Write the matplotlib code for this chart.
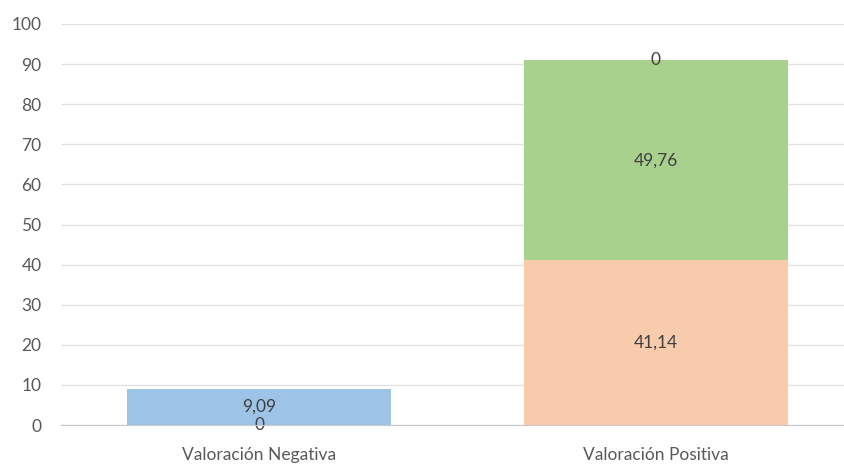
import matplotlib
matplotlib.use("Agg")
import matplotlib.pyplot as plt
import numpy as np

categories = ["Valoración Negativa", "Valoración Positiva"]
orange_vals = [0, 41.14]
green_vals = [np.nan, 49.76]
blue_vals = [9.09, 0]

plt.rcParams["font.family"] = ["Lato", "DejaVu Sans"]

def fmt(v):
  if np.isnan(v):
    return ""
  return ("%g" % v).replace(".", ",")

fig = plt.figure(figsize=(8.44, 4.71), dpi=100)
ax = fig.add_axes([61 / 844, 46 / 471, 793 / 844, 401 / 471])

x = np.arange(len(categories))
w = 0.666
o = np.array(orange_vals)
g = np.nan_to_num(np.array(green_vals))
b = np.array(blue_vals)

bars_o = ax.bar(x, o, w, color="#F8CBAD", zorder=2)
bars_g = ax.bar(x, g, w, bottom=o, color="#A9D18E", zorder=2)
bars_b = ax.bar(x, b, w, bottom=o + g, color="#9DC3E6", zorder=2)

for bars, vals in [(bars_o, orange_vals), (bars_g, green_vals), (bars_b, blue_vals)]:
  for rect, v in zip(bars, vals):
    if np.isnan(v):
      continue
    cy = rect.get_y() + rect.get_height() / 2
    ax.text(rect.get_x() + rect.get_width() / 2, cy, fmt(v), ha="center", va="center",
            fontsize=12.5, color="#404040", zorder=3)

ax.set_xlim(-0.5, 1.5)
ax.set_ylim(0, 100)
ax.set_yticks(np.arange(0, 101, 10))
ax.set_xticks(x)
ax.set_xticklabels(categories)
ax.tick_params(axis="both", length=0, labelsize=12.5, colors="#595959")
ax.tick_params(axis="y", pad=14)
ax.tick_params(axis="x", pad=16)
ax.grid(axis="y", color="#E3E3E3", linewidth=1, zorder=0)
for s in ["top", "right", "left"]:
  ax.spines[s].set_visible(False)
ax.spines["bottom"].set_color("#C8C8C8")
ax.spines["bottom"].set_zorder(3)

fig.savefig("out.png", dpi=100)
